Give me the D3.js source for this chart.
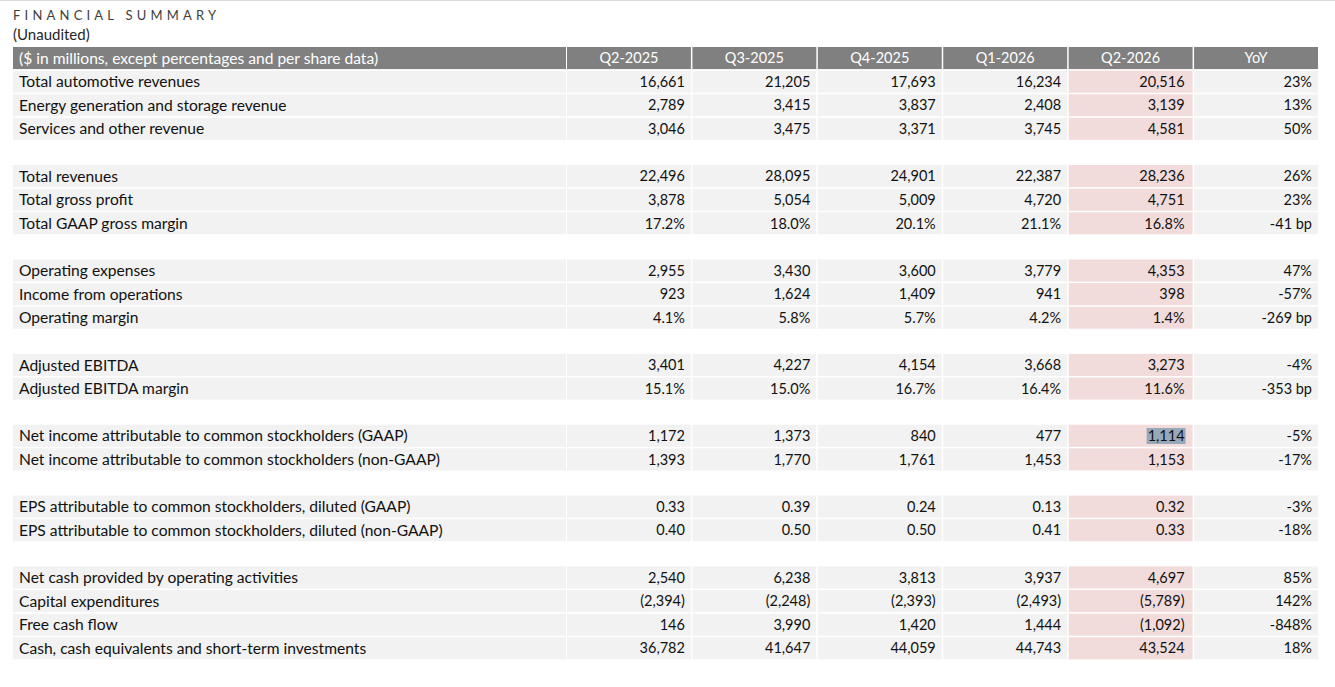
<!DOCTYPE html>
<html>
<head>
<meta charset="utf-8">
<script src="https://cdn.jsdelivr.net/npm/d3@7"></script>
<style>
  body { margin: 0; background: #fff; }
  text { font-family: Lato, "Open Sans", sans-serif; }
</style>
</head>
<body>
<svg id="chart" width="1335" height="687"></svg>
<script>
// table data
var unitsLabel = "($ in millions, except percentages and per share data)";
var columns = ["Q2-2025", "Q3-2025", "Q4-2025", "Q1-2026", "Q2-2026", "YoY"];
var metrics = [
  "Total automotive revenues",
  "Energy generation and storage revenue",
  "Services and other revenue",
  "Total revenues",
  "Total gross profit",
  "Total GAAP gross margin",
  "Operating expenses",
  "Income from operations",
  "Operating margin",
  "Adjusted EBITDA",
  "Adjusted EBITDA margin",
  "Net income attributable to common stockholders (GAAP)",
  "Net income attributable to common stockholders (non-GAAP)",
  "EPS attributable to common stockholders, diluted (GAAP)",
  "EPS attributable to common stockholders, diluted (non-GAAP)",
  "Net cash provided by operating activities",
  "Capital expenditures",
  "Free cash flow",
  "Cash, cash equivalents and short-term investments"
];
var q2_2025 = [16661, 2789, 3046, 22496, 3878, 17.2, 2955, 923, 4.1, 3401, 15.1, 1172, 1393, 0.33, 0.40, 2540, -2394, 146, 36782];
var q3_2025 = [21205, 3415, 3475, 28095, 5054, 18.0, 3430, 1624, 5.8, 4227, 15.0, 1373, 1770, 0.39, 0.50, 6238, -2248, 3990, 41647];
var q4_2025 = [17693, 3837, 3371, 24901, 5009, 20.1, 3600, 1409, 5.7, 4154, 16.7, 840, 1761, 0.24, 0.50, 3813, -2393, 1420, 44059];
var q1_2026 = [16234, 2408, 3745, 22387, 4720, 21.1, 3779, 941, 4.2, 3668, 16.4, 477, 1453, 0.13, 0.41, 3937, -2493, 1444, 44743];
var q2_2026 = [20516, 3139, 4581, 28236, 4751, 16.8, 4353, 398, 1.4, 3273, 11.6, 1114, 1153, 0.32, 0.33, 4697, -5789, -1092, 43524];
var yoy = [23, 13, 50, 26, 23, -41, 47, -57, -269, -4, -353, -5, -17, -3, -18, 85, 142, -848, 18];
// "int", "pct" or "eps" for each metric
var rowFormat = ["int", "int", "int", "int", "int", "pct", "int", "int", "pct", "int", "pct",
  "int", "int", "eps", "eps", "int", "int", "int", "int"];
var gapAfter = [2, 5, 8, 10, 12, 14];

var svg = d3.select("#chart");

var fmtInt = d3.format(",");
var formatValue = function(v, f) {
  if (f === "pct") return d3.format(".1f")(v) + "%";
  if (f === "eps") return d3.format(".2f")(v);
  return v < 0 ? "(" + fmtInt(-v) + ")" : fmtInt(v);
};
var formatYoy = function(v, f) {
  return f === "pct" ? v + " bp" : v + "%";
};

// slot index for each row (header = 0, blank rows between groups)
var slots = [];
var s = 1;
metrics.forEach(function(m, i) {
  slots.push(s);
  s += 1;
  if (gapAfter.indexOf(i) >= 0) s += 1;
});

var y = d3.scaleBand()
  .domain(d3.range(s))
  .range([47, 47 + s * 23.55])
  .paddingInner(0.065)
  .paddingOuter(0);

var x = d3.scaleBand()
  .domain(columns)
  .range([567, 1318])
  .paddingInner(0.012);

var labelLeft = 13;
var labelRight = 566;
var labelSize = "15.6px";
var numSize = "14.5px";
var ink = "#111";

var quarterCols = [q2_2025, q3_2025, q4_2025, q1_2026, q2_2026];

// top rule
svg.append("line")
  .attr("x1", 0).attr("x2", 1335)
  .attr("y1", 0.5).attr("y2", 0.5)
  .style("stroke", "#d9d9d9")
  .style("stroke-width", 1);

svg.append("text")
  .attr("x", labelLeft)
  .attr("y", 20)
  .style("font-size", "13px")
  .style("letter-spacing", "4.2px")
  .style("fill", "#404040")
  .text("FINANCIAL SUMMARY");

svg.append("text")
  .attr("x", labelLeft)
  .attr("y", 40)
  .style("font-size", "15px")
  .style("fill", "#262626")
  .text("(Unaudited)");

// header row
var header = svg.append("g").attr("class", "header");
header.append("rect")
  .attr("x", labelLeft)
  .attr("y", y(0))
  .attr("width", labelRight - labelLeft)
  .attr("height", y.bandwidth())
  .style("fill", "#808080");
header.append("text")
  .attr("x", labelLeft + 6)
  .attr("y", y(0) + y.bandwidth() / 2)
  .attr("dy", ".36em")
  .style("font-size", labelSize)
  .style("fill", "#fff")
  .text(unitsLabel);
header.selectAll(".hcell")
  .data(columns)
  .enter().append("rect")
  .attr("class", "hcell")
  .attr("x", function(d) { return x(d); })
  .attr("y", y(0))
  .attr("width", x.bandwidth())
  .attr("height", y.bandwidth())
  .style("fill", "#808080");
header.selectAll(".htext")
  .data(columns)
  .enter().append("text")
  .attr("class", "htext")
  .attr("x", function(d) { return x(d) + x.bandwidth() / 2; })
  .attr("y", y(0) + y.bandwidth() / 2)
  .attr("dy", ".36em")
  .style("text-anchor", "middle")
  .style("font-size", numSize)
  .style("fill", "#fff")
  .text(function(d) { return d; });

// body rows
var rows = svg.selectAll(".row")
  .data(metrics)
  .enter().append("g")
  .attr("class", "row")
  .attr("transform", function(d, i) { return "translate(0," + y(slots[i]) + ")"; });

rows.append("rect")
  .attr("x", labelLeft)
  .attr("width", labelRight - labelLeft)
  .attr("height", y.bandwidth())
  .style("fill", "#f2f2f2");

rows.append("text")
  .attr("x", labelLeft + 6)
  .attr("y", y.bandwidth() / 2)
  .attr("dy", ".36em")
  .style("font-size", labelSize)
  .style("fill", ink)
  .text(function(d) { return d; });

columns.forEach(function(col, c) {
  var pad = col === "Q2-2026" ? 8 : 6;
  rows.append("rect")
    .attr("x", x(col))
    .attr("width", x.bandwidth())
    .attr("height", y.bandwidth())
    .style("fill", col === "Q2-2026" ? "#f2dcdb" : "#f2f2f2");

  rows.append("text")
    .attr("class", "val-" + c)
    .attr("x", x(col) + x.bandwidth() - pad)
    .attr("y", y.bandwidth() / 2)
    .attr("dy", ".36em")
    .style("text-anchor", "end")
    .style("font-size", numSize)
    .style("fill", ink)
    .text(function(d, i) {
      if (col === "YoY") return formatYoy(yoy[i], rowFormat[i]);
      return formatValue(quarterCols[c][i], rowFormat[i]);
    });
});

// selected cell highlight (Q2-2026 GAAP net income)
var selRow = metrics.indexOf("Net income attributable to common stockholders (GAAP)");
var selText = svg.selectAll(".val-4").filter(function(d, i) { return i === selRow; });
var bb = selText.node().getBBox();
d3.select(selText.node().parentNode)
  .insert("rect", function() { return selText.node(); })
  .attr("x", bb.x - 1)
  .attr("y", bb.y + 1)
  .attr("width", bb.width + 2)
  .attr("height", bb.height - 1)
  .style("fill", "#97a8b9");
</script>
</body>
</html>
